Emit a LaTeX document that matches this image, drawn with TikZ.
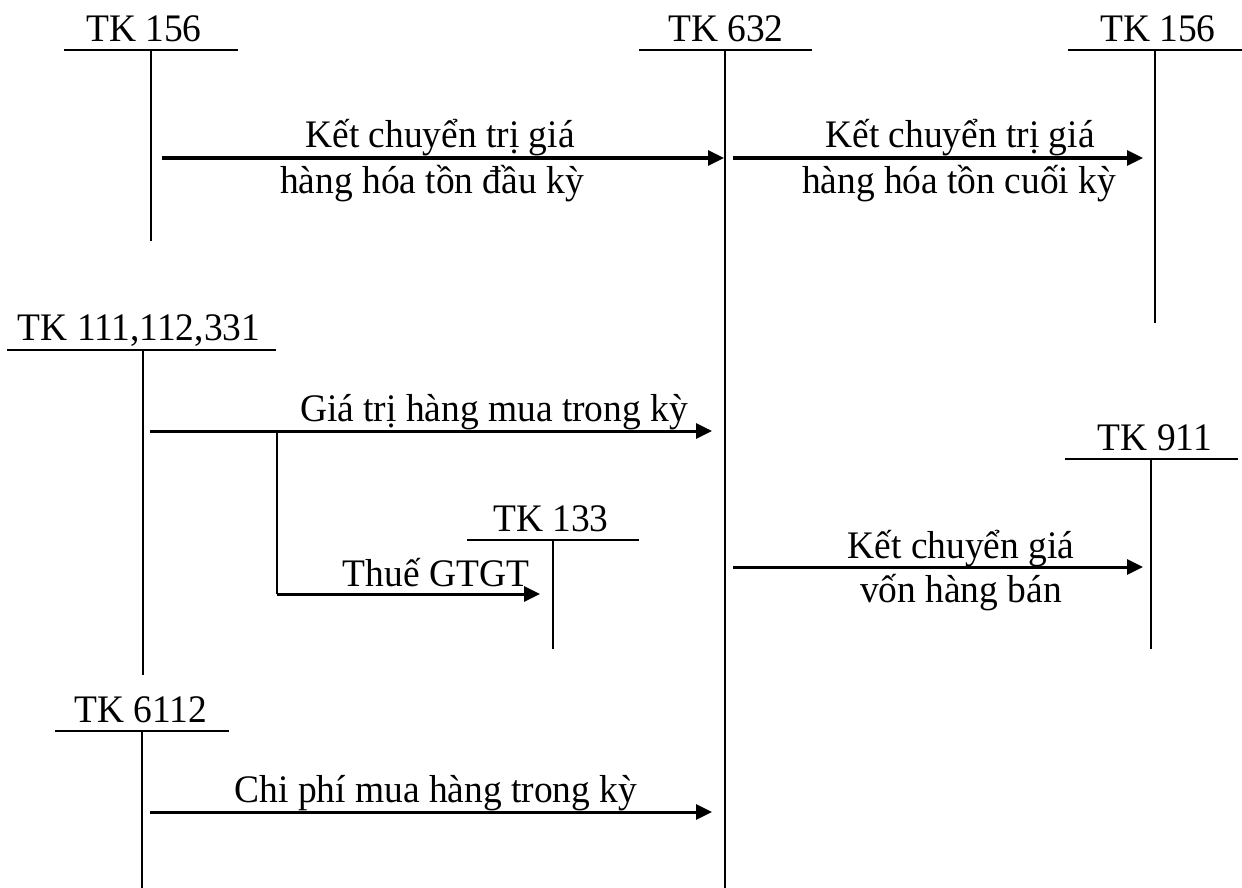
\documentclass[tikz,border=0pt]{standalone}
\usepackage{fontspec}
\setmainfont{Liberation Serif}[FakeStretch=0.96]
\usetikzlibrary{arrows.meta}
\begin{document}
\begin{tikzpicture}[x=1pt,y=-1pt,
  tline/.style={line width=2pt},
  flow/.style={line width=3pt,-{Triangle[length=16pt,width=15pt]}},
  txt/.style={anchor=base,inner sep=0pt,font=\fontsize{39}{44}\selectfont}]
\useasboundingbox (0,0) rectangle (1242,888);

% ---- T-accounts: title, horizontal bar, vertical stem ----
% TK 156 (opening stock)
\node[txt] (t156a) at (144,42) {TK 156};
\coordinate (h156aL) at (64,50);  \coordinate (h156aR) at (238,50);
\coordinate (v156aT) at (151,50); \coordinate (v156aB) at (151,241);
\draw[tline] (h156aL) -- (h156aR);
\draw[tline] (v156aT) -- (v156aB);

% TK 632
\node[txt] (t632) at (726,42) {TK 632};
\coordinate (h632L) at (639,50);  \coordinate (h632R) at (812,50);
\coordinate (v632T) at (725,50);  \coordinate (v632B) at (725,888);
\draw[tline] (h632L) -- (h632R);
\draw[tline] (v632T) -- (v632B);

% TK 156 (closing stock)
\node[txt] (t156b) at (1158,42) {TK 156};
\coordinate (h156bL) at (1068,50); \coordinate (h156bR) at (1242,50);
\coordinate (v156bT) at (1155,50); \coordinate (v156bB) at (1155,323);
\draw[tline] (h156bL) -- (h156bR);
\draw[tline] (v156bT) -- (v156bB);

% TK 111,112,331
\node[txt] (t111) at (139,340) {TK 111,112,331};
\coordinate (h111L) at (7,350);   \coordinate (h111R) at (276,350);
\coordinate (v111T) at (143,350); \coordinate (v111B) at (143,675);
\draw[tline] (h111L) -- (h111R);
\draw[tline] (v111T) -- (v111B);

% TK 133
\node[txt] (t133) at (551,531) {TK 133};
\coordinate (h133L) at (467,540); \coordinate (h133R) at (639,540);
\coordinate (v133T) at (553,540); \coordinate (v133B) at (553,649);
\draw[tline] (h133L) -- (h133R);
\draw[tline] (v133T) -- (v133B);

% TK 911
\node[txt] (t911) at (1155,450) {TK 911};
\coordinate (h911L) at (1065,459); \coordinate (h911R) at (1238,459);
\coordinate (v911T) at (1151,459); \coordinate (v911B) at (1151,649);
\draw[tline] (h911L) -- (h911R);
\draw[tline] (v911T) -- (v911B);

% TK 6112
\node[txt] (t6112) at (141,722) {TK 6112};
\coordinate (h6112L) at (55,731); \coordinate (h6112R) at (229,731);
\coordinate (v6112T) at (142,731); \coordinate (v6112B) at (142,888);
\draw[tline] (h6112L) -- (h6112R);
\draw[tline] (v6112T) -- (v6112B);

% ---- Postings ----
% opening stock -> 632
\coordinate (f1s) at (162,158); \coordinate (f1e) at (724,158);
\draw[flow] (f1s) -- (f1e);
\node[txt] (l1a) at (440,148) {Kết chuyển trị giá};
\node[txt] (l1b) at (432,193) {hàng hóa tồn đầu kỳ};

% 632 -> closing stock
\coordinate (f2s) at (733,158); \coordinate (f2e) at (1143,158);
\draw[flow] (f2s) -- (f2e);
\node[txt] (l2a) at (960,148) {Kết chuyển trị giá};
\node[txt] (l2b) at (959,193) {hàng hóa tồn cuối kỳ};

% purchases -> 632
\coordinate (f3s) at (150,431); \coordinate (f3e) at (712,431);
\draw[flow] (f3s) -- (f3e);
\node[txt] (l3) at (494,421) {Giá trị hàng mua trong kỳ};

% VAT branch -> 133
\coordinate (f4s) at (277,431); \coordinate (f4k) at (277,594);
\coordinate (f4e) at (540,594);
\draw[tline] (f4s) -- (f4k);
\draw[flow] (f4k) -- (f4e);
\node[txt] (l4) at (436,586) {Thuế GTGT};

% 632 -> 911
\coordinate (f5s) at (733,567); \coordinate (f5e) at (1143,567);
\draw[flow] (f5s) -- (f5e);
\node[txt] (l5a) at (961,558) {Kết chuyển giá};
\node[txt] (l5b) at (961,602) {vốn hàng bán};

% purchase costs -> 632
\coordinate (f6s) at (150,812); \coordinate (f6e) at (712,812);
\draw[flow] (f6s) -- (f6e);
\node[txt] (l6) at (436,802) {Chi phí mua hàng trong kỳ};
\end{tikzpicture}
\end{document}
